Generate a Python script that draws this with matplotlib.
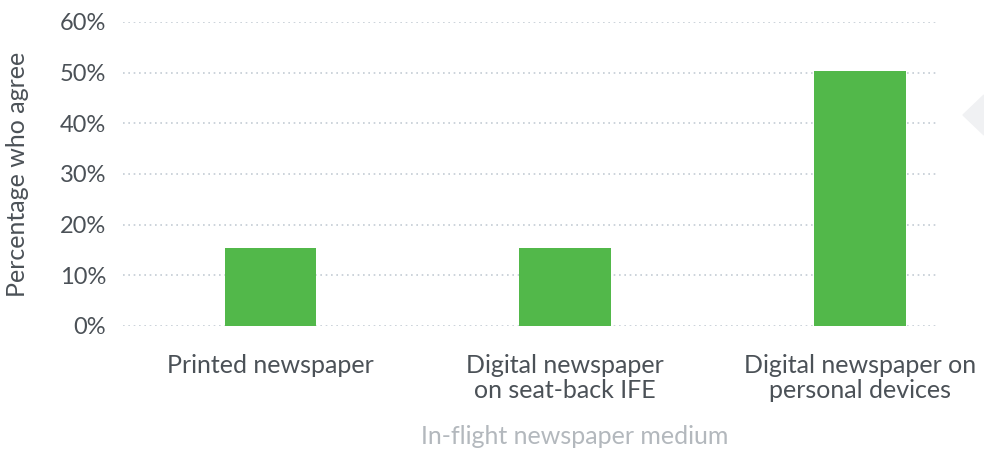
import matplotlib
matplotlib.use("Agg")
import matplotlib.pyplot as plt
from matplotlib.patches import Polygon
from matplotlib.ticker import FuncFormatter

categories = ["Printed newspaper",
              "Digital newspaper\non seat-back IFE",
              "Digital newspaper on\npersonal devices"]
values = [15.3, 15.3, 50.3]
y_ticks = [0, 10, 20, 30, 40, 50, 60]

plt.rcParams["font.family"] = ["Lato", "DejaVu Sans"]

W, H = 984, 453
fig = plt.figure(figsize=(W / 100, H / 100), dpi=100)
ax = fig.add_axes([123 / W, 1 - 326 / H, (938 - 123) / W, (326 - 22) / H])

x = list(range(len(categories)))
ax.bar(x, values, width=0.31, color="#52b84a", zorder=3)

ax.set_xlim(-0.5, 2.265)
ax.set_ylim(0, 60)
ax.set_yticks(y_ticks)
ax.yaxis.set_major_formatter(FuncFormatter(lambda v, _: f"{v:.0f}%"))
ax.set_xticks(x)
ax.set_xticklabels(categories, linespacing=1.1, fontsize=18)

ax.grid(axis="y", linestyle=(0, (1, 2.2)), color="#c3ccd4", linewidth=1.2, zorder=0)
for s in ax.spines.values():
    s.set_visible(False)
ax.tick_params(axis="both", length=0, colors="#4b5157")
ax.tick_params(axis="y", pad=12, labelsize=17)
ax.tick_params(axis="x", pad=20)

ax.set_ylabel("Percentage who agree", fontsize=18, color="#4b5157", labelpad=22)
fig.text(575 / W, 1 - 437 / H, "In-flight newspaper medium", fontsize=18,
         color="#b3b8bd", ha="center", va="center")

# small grey pointer at the right edge
fig.patches.append(Polygon([(963 / W, 1 - 115 / H), (984 / W, 1 - 95 / H),
                            (984 / W, 1 - 135 / H)], closed=True,
                           transform=fig.transFigure, color="#f0f1f3"))

fig.savefig("out.png", dpi=100)
